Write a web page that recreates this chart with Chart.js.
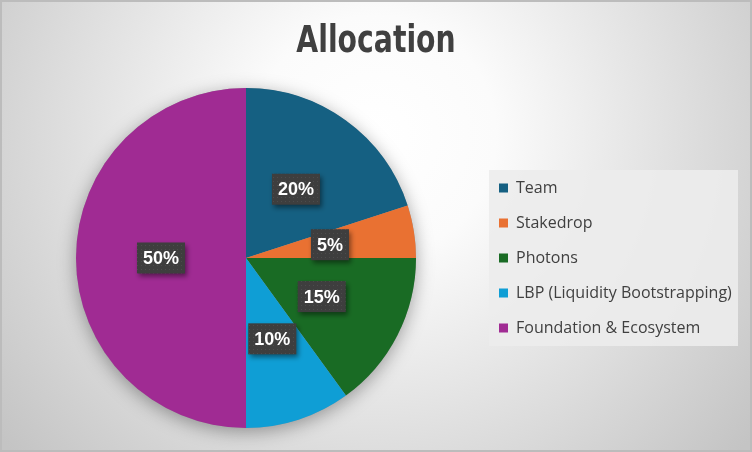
<!DOCTYPE html>
<html>
<head>
<meta charset="utf-8">
<script src="https://cdn.jsdelivr.net/npm/chart.js@4.4.1/dist/chart.umd.min.js"></script>
<style>
html, body { margin: 0; padding: 0; background: #fff; }
</style>
</head>
<body>
<canvas id="myChart" width="752" height="452"></canvas>
<script>
var chartTitle = "Allocation";
var labels = ["Team", "Stakedrop", "Photons", "LBP (Liquidity Bootstrapping)", "Foundation & Ecosystem"];
var allocation = [20, 5, 15, 10, 50];
var colors = ["#156082", "#E97132", "#196B24", "#0F9ED5", "#A02B93"];

var legendFont = '"Open Sans", "Liberation Sans", sans-serif';
var labelFont = 'bold 18px "Liberation Sans", Arial, sans-serif';
var titleFont = 'bold 37px "DejaVu Sans Condensed", "DejaVu Sans", sans-serif';

// legend width depends on the text, so work out the right padding from it
var m = document.createElement("canvas").getContext("2d");
m.font = '16px ' + legendFont;
var widest = 0;
labels.forEach(function(t) { widest = Math.max(widest, m.measureText(t).width); });
var legendLeft = 490;
var padRight = 752 - legendLeft - (19 + 9 + 8 + widest);

// dotted fill for the % boxes
var dots = document.createElement("canvas");
dots.width = 4; dots.height = 4;
var dc = dots.getContext("2d");
dc.fillStyle = "#3e3e3e"; dc.fillRect(0, 0, 4, 4);
dc.fillStyle = "#4c4c4c"; dc.fillRect(1, 1, 1, 1);

var backdrop = {
  id: "backdrop",
  beforeDraw: function(chart) {
    var c = chart.ctx, w = chart.width, h = chart.height;
    c.save();
    var g = c.createRadialGradient(w / 2, h * 0.3, 0, w / 2, h * 0.3, w * 0.64);
    g.addColorStop(0, "#ffffff");
    g.addColorStop(0.25, "#fbfbfb");
    g.addColorStop(1, "#c4c4c4");
    c.fillStyle = g;
    c.fillRect(0, 0, w, h);
    c.strokeStyle = "#bcbcbc";
    c.lineWidth = 2;
    c.strokeRect(1, 1, w - 2, h - 2);

    var hb = chart.legend.legendHitBoxes;
    if (hb && hb.length) {
      var first = hb[0], last = hb[hb.length - 1];
      var x0 = first.left - 10, y0 = first.top - 10;
      var y1 = last.top + last.height + 10;
      c.fillStyle = "rgba(236,236,236,0.9)";
      c.fillRect(x0, y0, 249, y1 - y0);
    }

    // title, squeezed to the narrow face of the original
    c.font = titleFont;
    c.fillStyle = "#404040";
    c.textAlign = "center";
    c.textBaseline = "alphabetic";
    c.translate(w / 2, 52);
    c.scale(0.85, 1);
    c.fillText(chartTitle, 0, 0);
    c.restore();
  },
  beforeDatasetsDraw: function(chart) {
    var arc = chart.getDatasetMeta(0).data[0];
    if (!arc) return;
    var c = chart.ctx;
    c.save();
    c.shadowColor = "rgba(0,0,0,0.35)";
    c.shadowBlur = 18;
    c.shadowOffsetY = 4;
    c.beginPath();
    c.arc(arc.x, arc.y, arc.outerRadius, 0, Math.PI * 2);
    c.fillStyle = "#999";
    c.fill();
    c.restore();
  }
};

var pctLabels = {
  id: "pctLabels",
  afterDatasetsDraw: function(chart) {
    var c = chart.ctx;
    var data = chart.data.datasets[0].data;
    var total = data.reduce(function(a, b) { return a + b; }, 0);
    var pat = c.createPattern(dots, "repeat");
    chart.getDatasetMeta(0).data.forEach(function(arc, i) {
      var p = arc.tooltipPosition();
      var txt = Math.round(data[i] / total * 100) + "%";
      c.save();
      c.font = labelFont;
      var bw = c.measureText(txt).width + 12, bh = 31;
      c.shadowColor = "rgba(0,0,0,0.45)";
      c.shadowBlur = 5;
      c.shadowOffsetX = 2;
      c.shadowOffsetY = 3;
      c.fillStyle = pat;
      c.fillRect(p.x - bw / 2, p.y - bh / 2, bw, bh);
      c.shadowColor = "transparent";
      c.fillStyle = "#ffffff";
      c.textAlign = "center";
      c.textBaseline = "middle";
      c.fillText(txt, p.x, p.y + 1);
      c.restore();
    });
  }
};

var ctx = document.getElementById("myChart");
var myChart = new Chart(ctx, {
  type: "pie",
  data: {
    labels: labels,
    datasets: [{
      data: allocation,
      backgroundColor: colors,
      borderWidth: 0
    }]
  },
  options: {
    responsive: false,
    animation: false,
    layout: { padding: { left: 12, right: padRight, top: 88, bottom: 24 } },
    plugins: {
      title: { display: false },
      legend: {
        position: "right",
        align: "center",
        labels: {
          boxWidth: 9,
          boxHeight: 9,
          padding: 19,
          color: "#404040",
          font: { family: legendFont, size: 16 }
        }
      },
      tooltip: { enabled: false }
    }
  },
  plugins: [backdrop, pctLabels]
});
</script>
</body>
</html>
